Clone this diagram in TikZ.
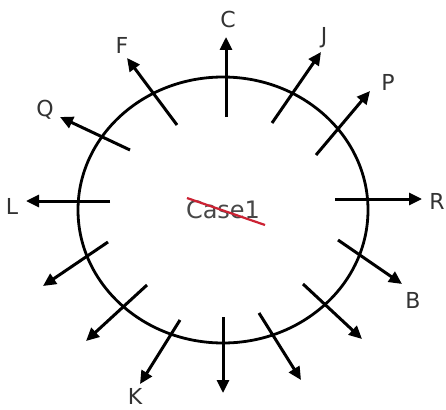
\documentclass[tikz,border=0pt]{standalone}
\usepackage{fontspec}
\setmainfont{DejaVu Sans}
\usetikzlibrary{arrows.meta}
\definecolor{txt}{HTML}{333333}
\definecolor{strike}{HTML}{CC2233}
\tikzset{
  ray/.style={line width=3pt, -{Triangle[length=13pt,width=12pt]}},
  lbl/.style={text=txt, font=\fontsize{22}{22}\selectfont, inner sep=0pt},
}
\begin{document}
\begin{tikzpicture}[x=1pt,y=-1pt]
\useasboundingbox (0,0) rectangle (446,409);
\fill[white] (0,0) rectangle (446,409);
\draw[line width=2.8pt] (223,210) ellipse [x radius=145, y radius=133];
\node[text=txt!90!white, font=\fontsize{24}{24}\selectfont, inner sep=0pt] (case) at (223,210) {Case1};
\coordinate (s0) at (187,198);
\coordinate (e0) at (265,225);
\draw[strike, line width=2.2pt] (s0) -- (e0);
% arrows: start (inside) and end (tip)
\coordinate (cS) at (226,117); \coordinate (cE) at (226,37);
\coordinate (jS) at (272,123); \coordinate (jE) at (321,52);
\coordinate (pS) at (316,155); \coordinate (pE) at (370,91);
\coordinate (rS) at (335,199); \coordinate (rE) at (422,199);
\coordinate (bS) at (338,240); \coordinate (bE) at (402,284);
\coordinate (aS) at (303,284); \coordinate (aE) at (362,339);
\coordinate (dS) at (259,313); \coordinate (dE) at (301,380);
\coordinate (vS) at (223,317); \coordinate (vE) at (223,393);
\coordinate (kS) at (180,320); \coordinate (kE) at (140,384);
\coordinate (gS) at (147,285); \coordinate (gE) at (86,341);
\coordinate (hS) at (108,242); \coordinate (hE) at (43,286);
\coordinate (lS) at (110,201); \coordinate (lE) at (26,201);
\coordinate (qS) at (130,150); \coordinate (qE) at (60,117);
\coordinate (fS) at (177,125); \coordinate (fE) at (127,58);
\foreach \n in {c,j,p,r,b,a,d,v,k,g,h,l,q,f} {\draw[ray] (\n S) -- (\n E);}
\node[lbl] (C) at (228,19) {C};
\node[lbl] (J) at (324,38) {J};
\node[lbl] (P) at (388,82) {P};
\node[lbl] (R) at (437,201) {R};
\node[lbl] (B) at (413,300) {B};
\node[lbl] (K) at (135,396) {K};
\node[lbl] (L) at (12,206) {L};
\node[lbl] (Q) at (45,110) {Q};
\node[lbl] (F) at (122,45) {F};
\end{tikzpicture}
\end{document}
